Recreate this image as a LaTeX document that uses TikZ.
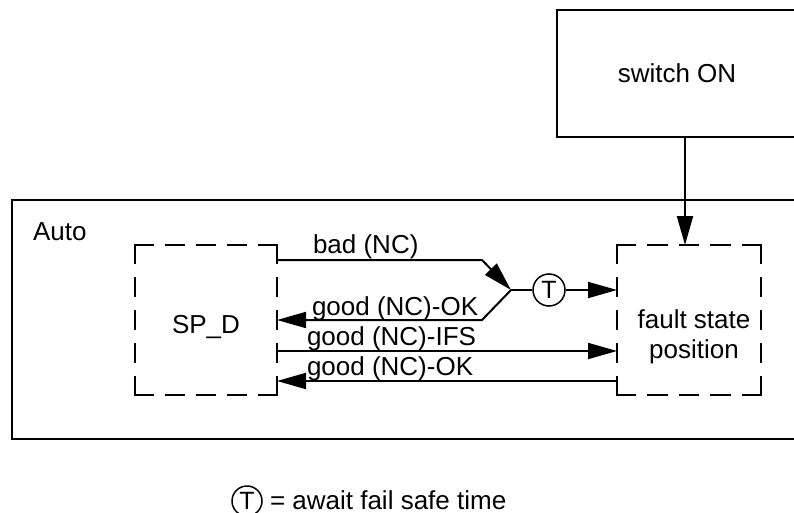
\documentclass[tikz,border=0pt]{standalone}
\usepackage{fontspec}
\setmainfont{Liberation Sans}
\usetikzlibrary{arrows.meta}
\tikzset{
  box/.style={draw, line width=2.5pt, inner sep=0pt, outer sep=0pt},
  dline/.style={line width=2.5pt, line cap=rect},
  conn/.style={line width=2pt},
  arr/.style={conn, -{Triangle[length=29pt,width=16pt]}},
  lbl/.style={anchor=base west, inner sep=0pt, outer sep=0pt},
  tcircle/.style={draw, circle, line width=1.5pt, minimum size=32pt, inner sep=0pt,
    font=\fontsize{25}{25}\selectfont},
  region/.style={inner sep=0pt, outer sep=0pt}
}
\newcommand\dashedframe[3]{%
  \draw[dline, dash pattern=on 18pt off #2] (#1.north west) -- (#1.north east);
  \draw[dline, dash pattern=on 18pt off #2] (#1.south west) -- (#1.south east);
  \draw[dline, dash pattern=on 18pt off #3] (#1.north west) -- (#1.south west);
  \draw[dline, dash pattern=on 18pt off #3] (#1.north east) -- (#1.south east);}
\begin{document}
\begin{tikzpicture}[x=1pt, y=-1pt, font=\fontsize{26}{30}\selectfont]
\useasboundingbox (0,0) rectangle (794,513);
\clip (0,0) rectangle (794,513);
% boxes
\node[box, minimum width=240pt, minimum height=127pt] (sw) at (677,73.5) {switch ON};
\node[box, minimum width=788pt, minimum height=239pt] (auto) at (406,319.5) {};
\node[lbl] (autolbl) at (33,240) {Auto};
\node[region, minimum width=142pt, minimum height=150pt, text height=26pt, text depth=0pt] (spd) at (206,320) {SP\_D};
\node[region, minimum width=144pt, minimum height=150pt] (fsp) at (689,320) {};
\node[align=center, inner sep=0pt] (fsptxt) at (694,337) {fault state\\position};
\dashedframe{spd}{13pt}{15pt}
\dashedframe{fsp}{13.5pt}{15pt}
% connectors
\coordinate (j) at (511,290);
\coordinate (b1) at (482,260);
\coordinate (b2) at (482,320);
\coordinate (ain) at ([xshift=-4pt]fsp.north);
\node[tcircle] (T) at (549,290) {T};
\draw[arr] (spd.east |- b1) -- (b1) -- (j);
\draw[conn] (j) -- (T);
\draw[arr] (T) -- (fsp.west |- T);
\draw[arr] (j) -- (b2) -- (spd.east |- b2);
\draw[arr] (spd.east |- 0,351) -- (fsp.west |- 0,351);
\draw[arr] (fsp.west |- 0,381) -- (spd.east |- 0,381);
\draw[arr] (ain |- sw.south) -- (ain);
% labels
\node[lbl] (l1) at (313,253) {bad (NC)};
\node[lbl] (l2) at (312,315) {good (NC)-OK};
\node[lbl] (l3) at (307,345) {good (NC)-IFS};
\node[lbl] (l4) at (307,375) {good (NC)-OK};
% key
\node[tcircle, minimum size=30pt] (Tkey) at (247,501) {T};
\node[lbl] (key) at (270,509) {= await fail safe time};
\end{tikzpicture}
\end{document}
